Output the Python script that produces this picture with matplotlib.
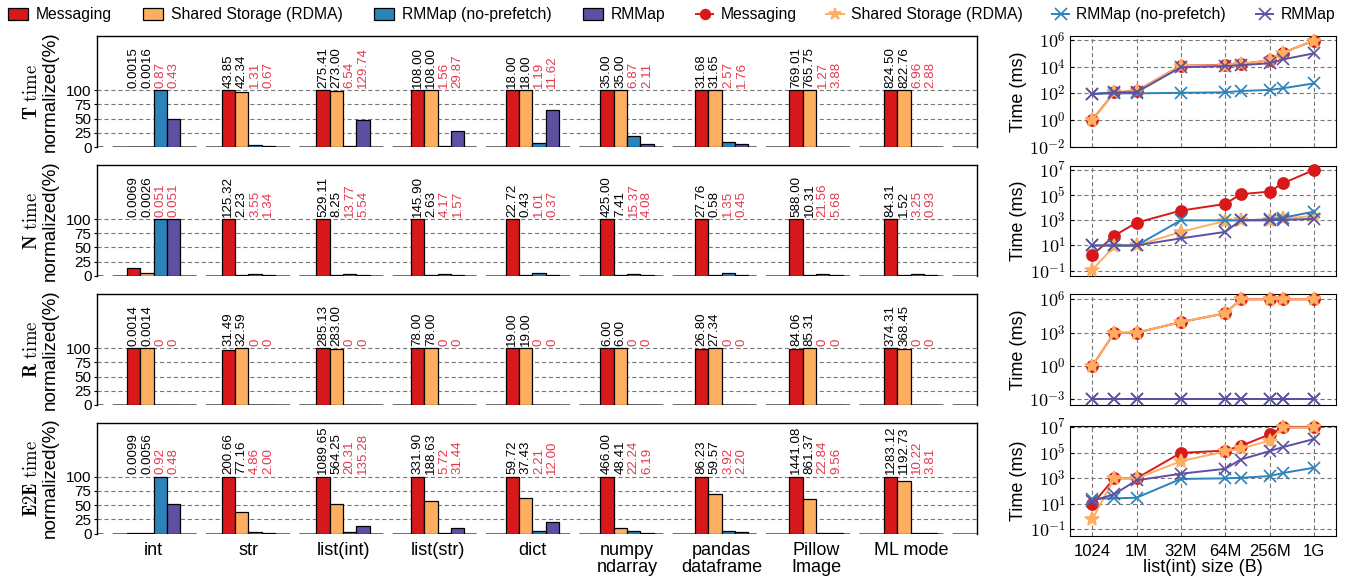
import numpy as np
import matplotlib
matplotlib.use('Agg')
import matplotlib.pyplot as plt
from matplotlib.patches import Patch
from matplotlib.lines import Line2D
from matplotlib.ticker import FixedLocator, FuncFormatter, NullLocator

plt.rcParams['font.family'] = ['Liberation Sans', 'DejaVu Sans']
plt.rcParams['mathtext.fontset'] = 'cm'
plt.rcParams['lines.scale_dashes'] = False

# ---------------- data ----------------
categories = ['int', 'str', 'list(int)', 'list(str)', 'dict', 'numpy\nndarray',
              'pandas\ndataframe', 'Pillow\nImage', 'ML mode']
series = ['Messaging', 'Shared Storage (RDMA)', 'RMMap (no-prefetch)', 'RMMap']
row_names = ['T', 'N', 'R', 'E2E']

# absolute times annotated above bars (bars are normalized to group max)
t_msg = ['0.0015', '43.85', '275.41', '108.00', '18.00', '35.00', '31.68', '769.01', '824.50']
t_shm = ['0.0016', '42.34', '273.00', '108.00', '18.00', '35.00', '31.65', '765.75', '822.76']
t_nopf = ['0.87', '1.31', '6.54', '1.56', '1.19', '6.87', '2.57', '1.27', '6.96']
t_rmmap = ['0.43', '0.67', '129.74', '29.87', '11.62', '2.11', '1.76', '3.88', '2.88']

n_msg = ['0.0069', '125.32', '529.11', '145.90', '22.72', '425.00', '27.76', '588.00', '84.31']
n_shm = ['0.0026', '2.23', '8.25', '2.63', '0.43', '7.41', '0.58', '10.31', '1.52']
n_nopf = ['0.051', '3.55', '13.77', '4.17', '1.01', '15.37', '1.35', '21.56', '3.25']
n_rmmap = ['0.051', '1.34', '5.54', '1.57', '0.37', '4.08', '0.45', '5.68', '0.93']

r_msg = ['0.0014', '31.49', '285.13', '78.00', '19.00', '6.00', '26.80', '84.06', '374.31']
r_shm = ['0.0014', '32.59', '283.00', '78.00', '19.00', '6.00', '27.34', '85.31', '368.45']
r_nopf = ['0', '0', '0', '0', '0', '0', '0', '0', '0']
r_rmmap = ['0', '0', '0', '0', '0', '0', '0', '0', '0']

e_msg = ['0.0099', '200.66', '1089.65', '331.90', '59.72', '466.00', '86.23', '1441.08', '1283.12']
e_shm = ['0.0056', '77.16', '564.25', '188.63', '37.43', '48.41', '59.57', '861.37', '1192.73']
e_nopf = ['0.92', '4.86', '20.31', '5.72', '2.21', '22.24', '3.92', '22.84', '10.22']
e_rmmap = ['0.48', '2.00', '135.28', '31.44', '12.00', '6.19', '2.20', '9.56', '3.81']

bar_rows = [[t_msg, t_shm, t_nopf, t_rmmap],
            [n_msg, n_shm, n_nopf, n_rmmap],
            [r_msg, r_shm, r_nopf, r_rmmap],
            [e_msg, e_shm, e_nopf, e_rmmap]]

# line panels: list(int) size sweep
size_pos = [0, 0.5, 1, 2, 3, 3.35, 4, 4.3, 5]
size_ticks = ['1024', '1M', '32M', '64M', '256M', '1G']

lt_msg = [1, 120, 150, 1.2e4, 1.3e4, 1.6e4, 3e4, 1.1e5, 9e5]
lt_shm = [1, 120, 150, 1.2e4, 1.2e4, 1.6e4, 3e4, 1.1e5, 9e5]
lt_nopf = [90, 100, 100, 110, 120, 150, 180, 240, 560]
lt_rmmap = [90, 120, 120, 9000, 1.1e4, 1.3e4, 1.8e4, 3.5e4, 1e5]

ln_msg = [1.7, 60, 650, 5900, 2e4, 1.2e5, 1.9e5, 8.7e5, 1e7]
ln_shm = [0.11, 9, 10, 120, 900, 1000, 1000, 1400, 2200]
ln_nopf = [10, 10, 10, 1000, 1000, 1000, 1200, 1600, 4900]
ln_rmmap = [10, 10, 10, 37, 120, 1000, 1000, 1100, 1300]

lr_msg = [1, 1000, 1000, 9000, 5.5e4, 1e6, 1e6, 1e6, 1e6]
lr_shm = [1, 1000, 1000, 9000, 5.5e4, 1e6, 1e6, 1e6, 1e6]
lr_nopf = [1e-3, 1e-3, 1e-3, 1e-3, 1e-3, 1e-3, 1e-3, 1e-3, 1e-3]
lr_rmmap = [1e-3, 1e-3, 1e-3, 1e-3, 1e-3, 1e-3, 1e-3, 1e-3, 1e-3]

le_msg = [9, 1000, 1000, 1e5, 1.5e5, 3.4e5, 2.8e6, 1e7, 1e7]
le_shm = [0.6, 1000, 1000, 2.2e4, 1.3e5, 2.2e5, 9e5, 1e7, 1e7]
le_nopf = [25, 27, 30, 900, 1000, 1100, 1500, 2600, 6800]
le_rmmap = [17, 57, 700, 2300, 5600, 3e4, 1.35e5, 2.8e5, 1.2e6]

line_rows = [[lt_msg, lt_shm, lt_nopf, lt_rmmap],
             [ln_msg, ln_shm, ln_nopf, ln_rmmap],
             [lr_msg, lr_shm, lr_nopf, lr_rmmap],
             [le_msg, le_shm, le_nopf, le_rmmap]]

# ---------------- style ----------------
bar_colors = ['#d7191c', '#fdae61', '#2b83ba', '#5e4fa2']
red_txt = '#e23a4f'
markers = ['o', '*', 'x', 'x']
msizes = [8, 10, 9, 9]

W, H = 1359, 583
fig = plt.figure(figsize=(W / 100, H / 100), dpi=100)

def fx(px):
    return px / W

def fy(top, bottom):
    return 1 - bottom / H, (bottom - top) / H

left_rows = [(36, 147), (165.5, 275.7), (294.3, 405), (422.5, 533.5)]
right_rows = [(36, 146.7), (165.7, 275.7), (294, 405), (425.7, 535.7)]
right_ylims = [(1e-2, 10 ** 6.3), (10 ** -1.4, 10 ** 7.34), (10 ** -3.5, 10 ** 6.48), (10 ** -1.5, 10 ** 7.13)]
right_yticks = [[1e-2, 1, 1e2, 1e4, 1e6], [1e-1, 1e1, 1e3, 1e5, 1e7],
                [1e-3, 1, 1e3, 1e6], [1e-1, 1e1, 1e3, 1e5, 1e7]]

grid_ls = (0, (3, 2))
x = np.arange(len(categories))
bw = 0.141

for r in range(4):
    top, bot = left_rows[r]
    b, h = fy(top, bot)
    ax = fig.add_axes([fx(97), b, fx(977) - fx(97), h])
    vals = np.array([[float(v) for v in s] for s in bar_rows[r]])
    norm = vals / vals.max(axis=0) * 100
    for k in range(4):
        ax.bar(x + (k - 1.5) * bw, norm[k], bw, color=bar_colors[k],
               edgecolor='black', linewidth=0.9, zorder=3)
        for i in range(len(categories)):
            ax.text(x[i] + (k - 1.5) * bw, 104, bar_rows[r][k][i], rotation=90,
                    ha='center', va='bottom', fontsize=9.6,
                    color='black' if k < 2 else red_txt, zorder=4)
    for yv in [25, 50, 75, 100]:
        ax.axhline(yv, color='#777777', lw=0.8, ls=grid_ls, zorder=1)
    ax.axhline(0, color='#555555', lw=1.2, ls=(55.9, (60.5, 6.7)), zorder=2)
    ax.set_xlim(-0.6, 8.7)
    ax.set_ylim(0, 195)
    ax.set_yticks([0, 25, 50, 75, 100])
    ax.tick_params(axis='y', labelsize=11, length=2, pad=2)
    ax.spines['bottom'].set_visible(False)
    for s in ['top', 'left', 'right']:
        ax.spines[s].set_linewidth(1.0)
    ax.set_ylabel(r'$\mathbf{' + row_names[r] + r'}\ \mathrm{time}$' + '\nnormalized(%)',
                  fontsize=13.5, linespacing=1.05, labelpad=5)
    if r == 3:
        ax.set_xticks(x)
        ax.set_xticklabels(categories, fontsize=13, linespacing=1.0)
        ax.tick_params(axis='x', length=0, pad=6)
    else:
        ax.set_xticks([])

pow_fmt = FuncFormatter(lambda v, p: r'$10^{%d}$' % int(round(np.log10(v))))

for r in range(4):
    top, bot = right_rows[r]
    b, h = fy(top, bot)
    ax = fig.add_axes([fx(1070), b, fx(1336) - fx(1070), h])
    ax.set_yscale('log')
    for k in range(4):
        ax.plot(size_pos, line_rows[r][k], color=bar_colors[k], marker=markers[k],
                ms=msizes[k], lw=1.4, mew=1.2, zorder=3 + k, clip_on=False)
    ax.set_xlim(-0.5, 5.5)
    ax.set_ylim(*right_ylims[r])
    ax.yaxis.set_major_locator(FixedLocator(right_yticks[r]))
    ax.yaxis.set_minor_locator(NullLocator())
    ax.yaxis.set_major_formatter(pow_fmt)
    ax.set_xticks(range(len(size_ticks)))
    ax.grid(True, ls=grid_ls, color='#777777', lw=0.8, zorder=0)
    ax.set_axisbelow(True)
    ax.tick_params(axis='y', labelsize=13, direction='in', length=3, pad=3)
    ax.tick_params(axis='x', direction='in', length=0)
    ax.set_ylabel('Time (ms)', fontsize=13, labelpad=2)
    if r == 3:
        ax.set_xticklabels(size_ticks, fontsize=12)
        ax.tick_params(axis='x', pad=6)
        ax.set_xlabel('list(int) size (B)', fontsize=13, labelpad=0)
    else:
        ax.set_xticklabels([])

bar_handles = [Patch(facecolor=c, edgecolor='black', linewidth=0.9) for c in bar_colors]
line_handles = [Line2D([0], [0], color=bar_colors[k], marker=markers[k], ms=msizes[k] - 1,
                       lw=1.4, mew=1.2) for k in range(4)]

fig.legend(bar_handles, series, loc='center left', bbox_to_anchor=(fx(8), 1 - 15 / H),
           ncol=4, frameon=False, fontsize=11.3, handlelength=1.27, handleheight=0.85,
           handletextpad=0.5, columnspacing=2.0, borderpad=0, borderaxespad=0)
fig.legend(line_handles, series, loc='center left', bbox_to_anchor=(fx(696), 1 - 15 / H),
           ncol=4, frameon=False, fontsize=11.3, handlelength=1.1,
           handletextpad=0.45, columnspacing=1.9, borderpad=0, borderaxespad=0)

fig.savefig('out.png', dpi=100)
